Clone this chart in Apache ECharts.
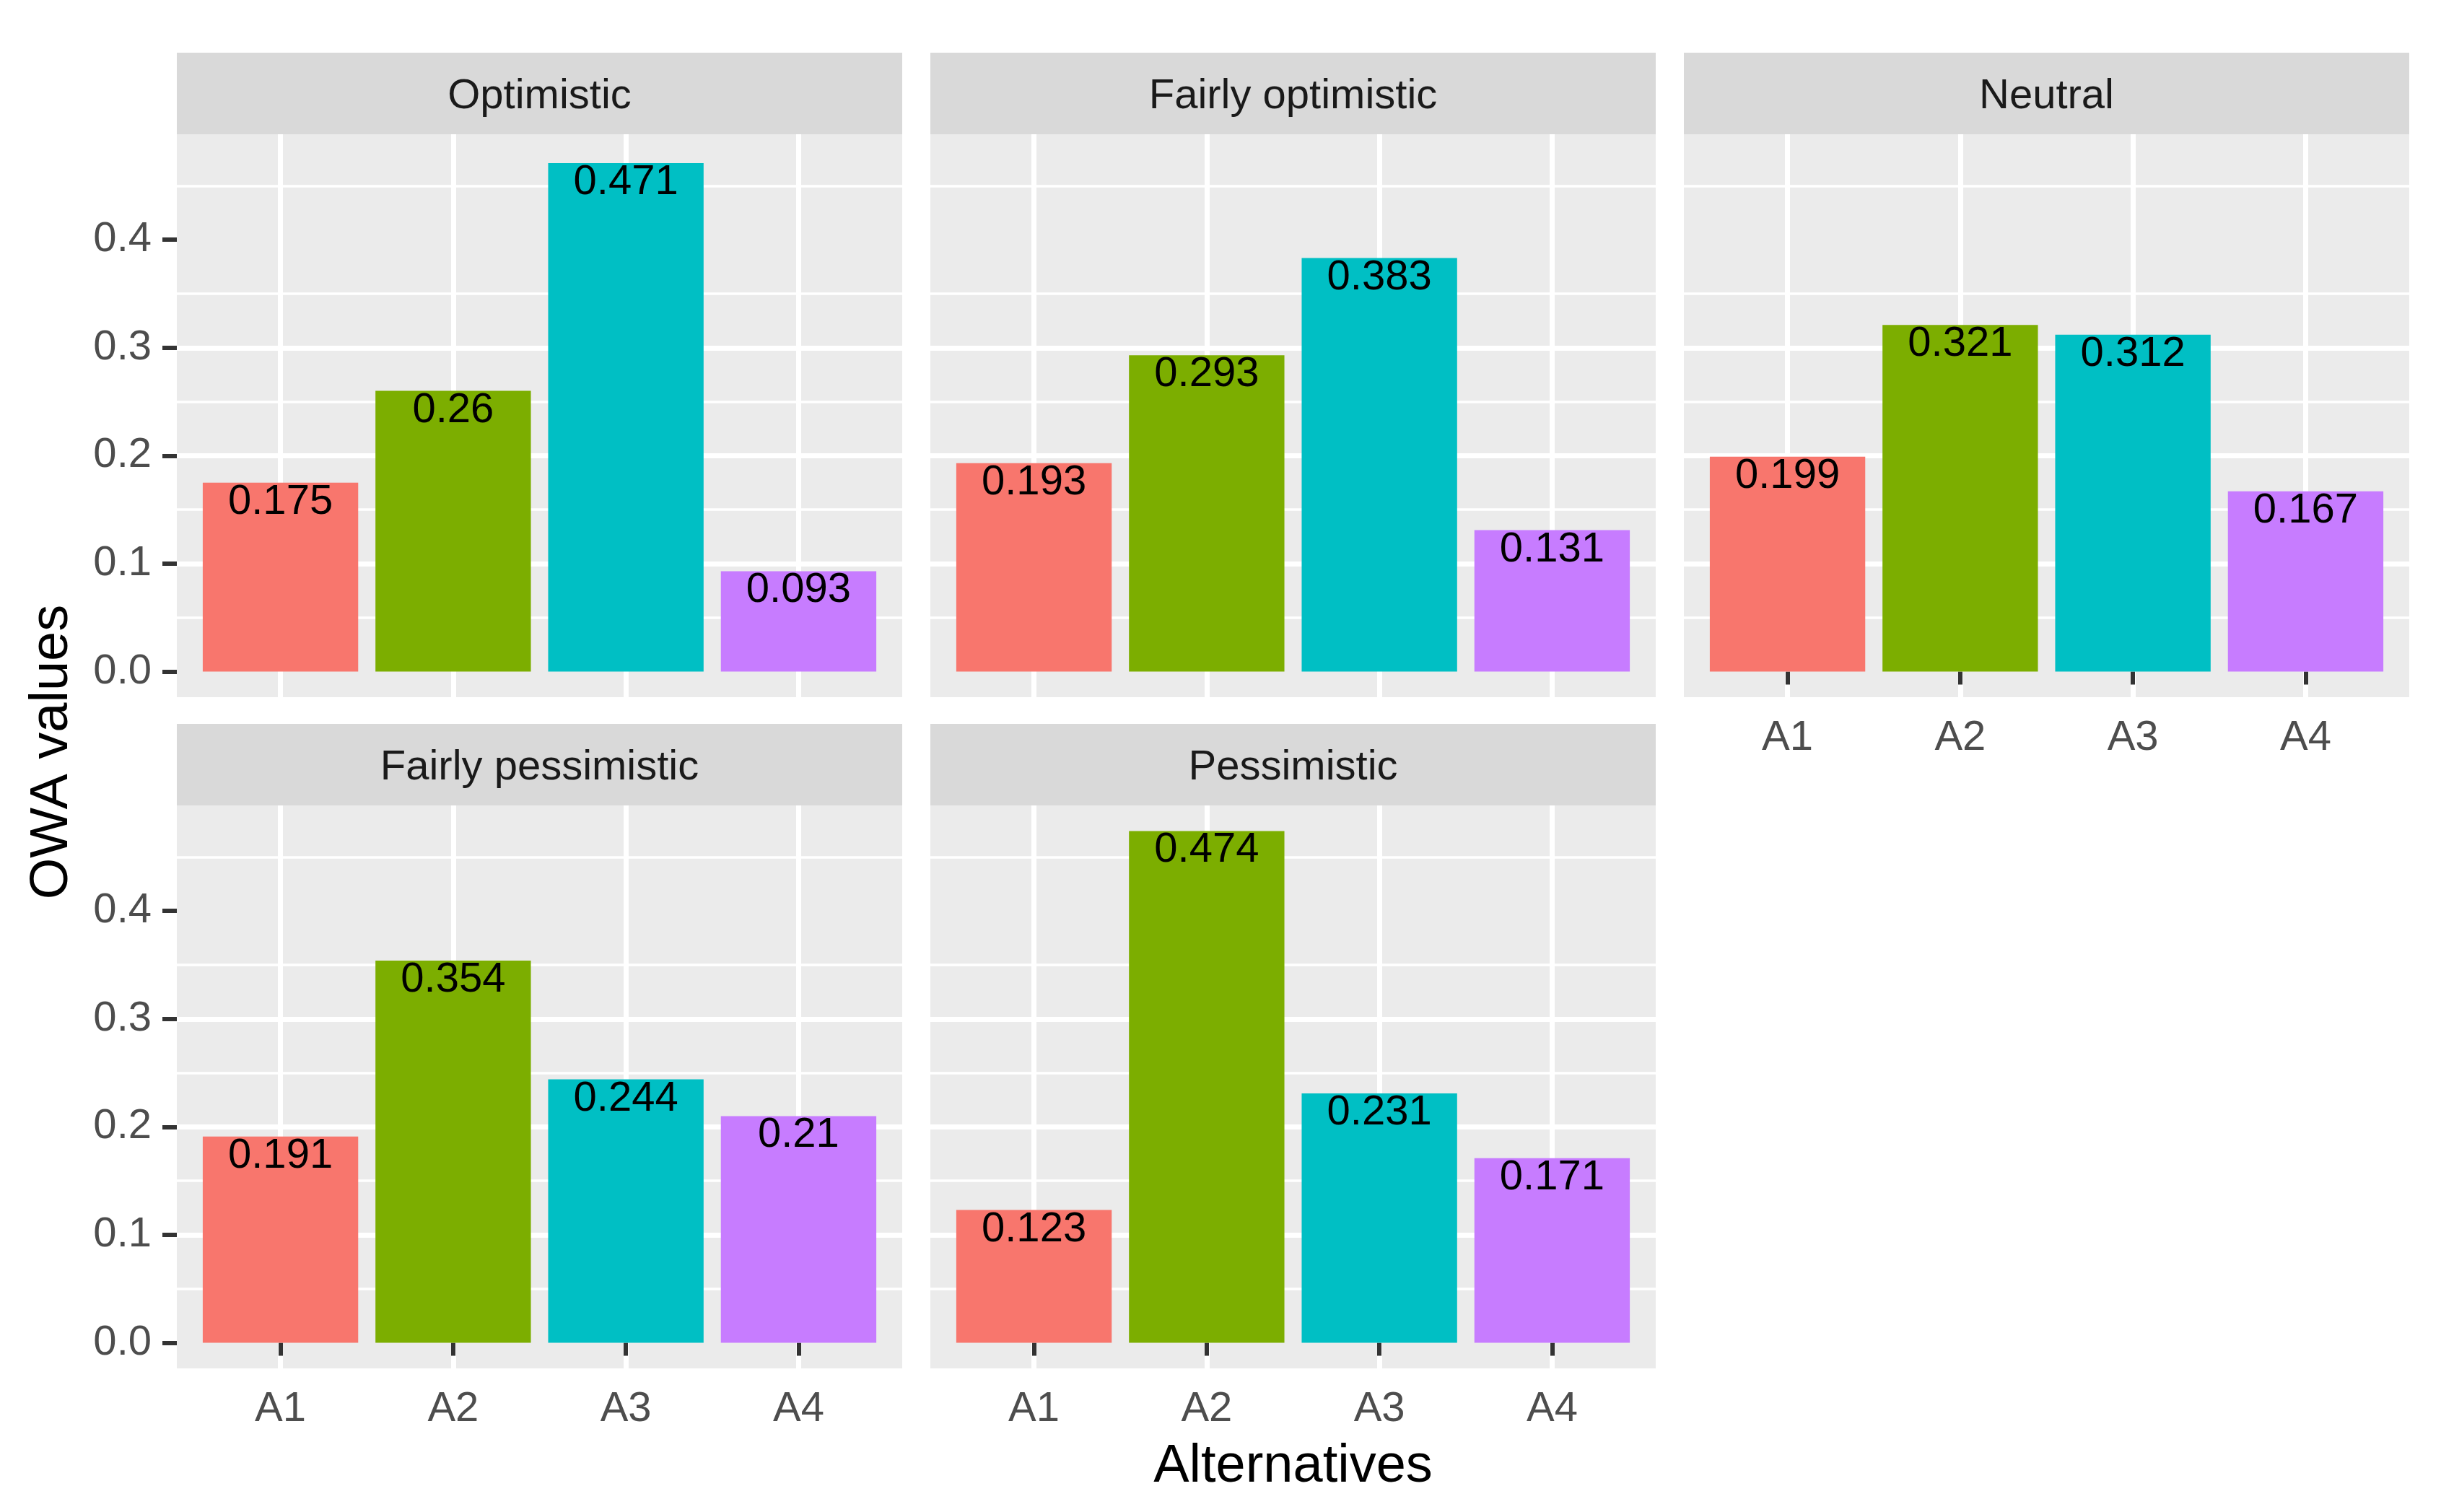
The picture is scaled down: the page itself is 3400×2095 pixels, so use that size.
<!DOCTYPE html>
<html><head><meta charset="utf-8">
<script src="https://cdn.jsdelivr.net/npm/echarts@6/dist/echarts.min.js"></script>
<style>html,body{margin:0;padding:0;background:#fff}#c{width:3400px;height:2095px}</style>
</head><body><div id="c"></div>
<script>
// ---- data ----
const categories = ['A1', 'A2', 'A3', 'A4'];
const facets = ['Optimistic', 'Fairly optimistic', 'Neutral', 'Fairly pessimistic', 'Pessimistic'];
const optimistic = [0.175, 0.26, 0.471, 0.093];
const fairlyOptimistic = [0.193, 0.293, 0.383, 0.131];
const neutral = [0.199, 0.321, 0.312, 0.167];
const fairlyPessimistic = [0.191, 0.354, 0.244, 0.21];
const pessimistic = [0.123, 0.474, 0.231, 0.171];
const yTicks = [0, 0.1, 0.2, 0.3, 0.4];
const xTitle = 'Alternatives';
const yTitle = 'OWA values';

// ---- layout / style ----
const facetValues = [optimistic, fairlyOptimistic, neutral, fairlyPessimistic, pessimistic];
const palette = ['#F8766D', '#7CAE00', '#00BFC4', '#C77CFF'];
const FONT = '"Liberation Sans", Arial, sans-serif';
const colLeft = [245, 1289, 2333];
const panelW = 1005;
const stripTop = [73, 1003];
const stripH = 113;
const plotH = 780;
const unit = panelW / 4.2;
const yMin = -0.0237, yMax = 0.4977;
const FS = 58;

const grids = [], xAxes = [], yAxes = [], series = [], graphics = [];

facets.forEach((name, i) => {
  const row = i < 3 ? 0 : 1;
  const col = i % 3;
  const L = colLeft[col];
  const T = stripTop[row] + stripH;
  const showY = col === 0;
  const showX = row === 1 || i === 2;
  const bg = grids.length;
  grids.push({ left: L, top: T, width: panelW, height: plotH, show: true, backgroundColor: '#EBEBEB', borderWidth: 0, containLabel: false, outerBoundsMode: 'none' });
  const bi = grids.length;
  grids.push({ left: L + 0.1 * unit, top: T, width: 4 * unit, height: plotH, show: false, containLabel: false, outerBoundsMode: 'none' });

  xAxes.push({ gridIndex: bg, type: 'category', data: categories, show: false });
  yAxes.push({
    gridIndex: bg, type: 'value', min: yMin, max: yMax,
    axisLine: { show: false },
    axisTick: { show: showY, length: 20, customValues: yTicks, lineStyle: { color: '#333333', width: 6 } },
    axisLabel: { show: showY, customValues: yTicks, formatter: v => (+v).toFixed(1), color: '#4D4D4D', fontSize: FS, fontFamily: FONT, margin: 35 },
    splitLine: { show: true, showMinLine: false, showMaxLine: false, lineStyle: { color: '#FFFFFF', width: 7 } },
    minorTick: { show: false, splitNumber: 2 },
    minorSplitLine: { show: true, lineStyle: { color: '#FFFFFF', width: 3.5 } }
  });

  xAxes.push({
    gridIndex: bi, type: 'category', data: categories,
    axisLine: { show: false },
    axisTick: { show: showX, alignWithLabel: true, interval: 0, length: 18, lineStyle: { color: '#333333', width: 6 } },
    axisLabel: { show: showX, interval: 0, color: '#4D4D4D', fontSize: FS, fontFamily: FONT, margin: 28 },
    splitLine: { show: true, alignWithLabel: true, interval: 0, lineStyle: { color: '#FFFFFF', width: 7 } }
  });
  yAxes.push({ gridIndex: bi, type: 'value', min: yMin, max: yMax, show: false });

  series.push({
    type: 'bar', name: name, xAxisIndex: bi, yAxisIndex: bi,
    data: facetValues[i], colorBy: 'data', barWidth: '90%',
    label: { show: true, position: 'insideTop', distance: -2, color: '#000000', fontSize: FS, fontFamily: FONT, formatter: p => String(p.value) }
  });

  graphics.push({ type: 'rect', shape: { x: L, y: stripTop[row], width: panelW, height: stripH }, style: { fill: '#D9D9D9' }, silent: true });
  graphics.push({ type: 'text', x: L + panelW / 2, y: stripTop[row] + stripH / 2 + 4, style: { text: name, fill: '#1A1A1A', font: FS + 'px ' + FONT, textAlign: 'center', textVerticalAlign: 'middle' }, silent: true });
});

graphics.push({ type: 'text', x: (colLeft[0] + colLeft[2] + panelW) / 2, y: 2033, style: { text: xTitle, fill: '#000000', font: '74px ' + FONT, textAlign: 'center', textVerticalAlign: 'middle' }, silent: true });
graphics.push({ type: 'text', x: 73, y: 1042, rotation: Math.PI / 2, style: { text: yTitle, fill: '#000000', font: '74px ' + FONT, textAlign: 'center', textVerticalAlign: 'middle' }, silent: true });

const chart = echarts.init(document.getElementById('c'), null, { renderer: 'canvas' });
chart.setOption({
  animation: false,
  backgroundColor: '#FFFFFF',
  color: palette,
  grid: grids,
  xAxis: xAxes,
  yAxis: yAxes,
  series: series,
  graphic: graphics
});
</script></body></html>
